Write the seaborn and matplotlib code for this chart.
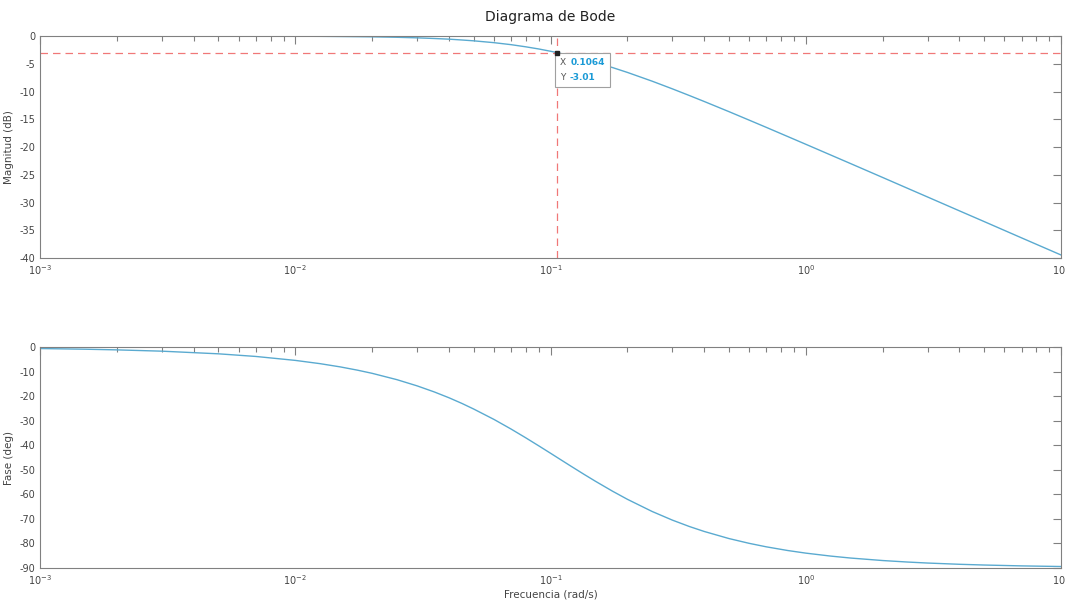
import numpy as np
import pandas as pd
import matplotlib
matplotlib.use("Agg")
import matplotlib.pyplot as plt
import matplotlib.ticker as mticker
from matplotlib.offsetbox import TextArea, HPacker, VPacker, AnnotationBbox
import seaborn as sns

# frequency samples (rad/s)
frecuencia = [0.001, 0.0015, 0.002, 0.003, 0.005, 0.007, 0.01, 0.0125, 0.015, 0.0175,
              0.02, 0.025, 0.03, 0.035, 0.04, 0.045, 0.05, 0.06, 0.07, 0.08, 0.09,
              0.1, 0.1064, 0.12, 0.135, 0.15, 0.175, 0.2, 0.25, 0.3, 0.35, 0.4, 0.5,
              0.6, 0.7, 0.85, 1.0, 1.25, 1.5, 2.0, 2.5, 3.0, 4.0, 5.0, 7.0, 10.0]
magnitud = [0.0, -0.001, -0.002, -0.003, -0.01, -0.02, -0.04, -0.06, -0.09, -0.12,
            -0.15, -0.23, -0.33, -0.45, -0.57, -0.72, -0.87, -1.2, -1.56, -1.95, -2.34,
            -2.75, -3.01, -3.56, -4.17, -4.75, -5.69, -6.56, -8.14, -9.52, -10.73, -11.8, -13.63,
            -15.16, -16.46, -18.12, -19.51, -21.43, -23.0, -25.49, -27.43, -29.01, -31.51, -33.44, -36.37, -39.46]
fase = [-0.54, -0.81, -1.08, -1.61, -2.69, -3.76, -5.37, -6.7, -8.02, -9.34,
        -10.64, -13.22, -15.75, -18.21, -20.6, -22.93, -25.2, -29.42, -33.34, -36.94, -40.23,
        -43.22, -45.0, -48.44, -51.76, -54.65, -58.7, -61.99, -66.95, -70.47, -73.09, -75.1, -77.99,
        -79.94, -81.36, -82.87, -83.93, -85.13, -85.94, -86.95, -87.56, -87.97, -88.48, -88.78, -89.13, -89.39]

# data tip
tip_x = 0.1064
tip_y = -3.01

df = pd.DataFrame({"w": frecuencia, "mag": magnitud, "fase": fase})

sns.set_style("white")
plt.rcParams["font.family"] = ["DejaVu Sans"]
plt.rcParams["axes.unicode_minus"] = False

line_c = "#5aaad0"
grey = "#808080"
txt = "#444444"
red = "#f07878"
blue = "#1a9ad6"

fig = plt.figure(figsize=(10.65, 6), dpi=100)
ax1 = fig.add_axes([0.0376, 0.57, 0.9587, 0.37])
ax2 = fig.add_axes([0.0376, 0.0533, 0.9587, 0.368])

sns.lineplot(data=df, x="w", y="mag", ax=ax1, color=line_c, linewidth=1.0)
sns.lineplot(data=df, x="w", y="fase", ax=ax2, color=line_c, linewidth=1.0)

for ax in (ax1, ax2):
    ax.set_xscale("log")
    ax.set_xlim(1e-3, 10)
    ax.xaxis.set_major_locator(mticker.LogLocator(base=10, numticks=10))
    ax.xaxis.set_minor_locator(mticker.LogLocator(base=10, subs=np.arange(2, 10), numticks=10))
    ax.xaxis.set_minor_formatter(mticker.NullFormatter())
    ax.tick_params(which="both", direction="in", top=True, right=True,
                   colors=grey, labelcolor=txt, labelsize=7, width=0.8)
    ax.tick_params(which="major", length=6)
    ax.tick_params(which="minor", length=3.5)
    for s in ax.spines.values():
        s.set_color(grey)
        s.set_linewidth(0.8)
    ax.set_xlabel("")

ax1.set_ylim(-40, 0)
ax1.set_yticks(np.arange(-40, 1, 5))
ax1.set_ylabel("Magnitud (dB)", fontsize=7.5, color=txt, labelpad=4)
ax1.set_title("Diagrama de Bode", fontsize=10, color="#222222", pad=11)

ax2.set_ylim(-90, 0)
ax2.set_yticks(np.arange(-90, 1, 10))
ax2.set_ylabel("Fase (deg)", fontsize=7.5, color=txt, labelpad=4)
ax2.set_xlabel("Frecuencia (rad/s)", fontsize=7.5, color=txt, labelpad=2)

# data tip guides
ax1.axhline(tip_y, color=red, linestyle=(0, (6, 4)), linewidth=0.9)
ax1.axvline(tip_x, color=red, linestyle=(0, (6, 4)), linewidth=0.9)
ax1.plot([tip_x], [tip_y], marker="s", markersize=3, color="#222222", zorder=5)


def tip_row(name, value):
    a = TextArea(name, textprops=dict(fontsize=6.5, color="#555555"))
    b = TextArea(value, textprops=dict(fontsize=6.5, color=blue, fontweight="bold"))
    return HPacker(children=[a, b], align="baseline", pad=0, sep=3)


tip = VPacker(children=[tip_row("X", "0.1064"), tip_row("Y", "-3.01")],
              align="left", pad=0, sep=4)
ab = AnnotationBbox(tip, (tip_x, tip_y), xybox=(2, -4), xycoords="data",
                    boxcoords="offset points", box_alignment=(0, 1),
                    bboxprops=dict(boxstyle="square,pad=0.35", facecolor="white",
                                   edgecolor="#a0a0a0", linewidth=0.8),
                    frameon=True, pad=0.35, zorder=4)
ax1.add_artist(ab)

fig.savefig("out.png", dpi=100)
